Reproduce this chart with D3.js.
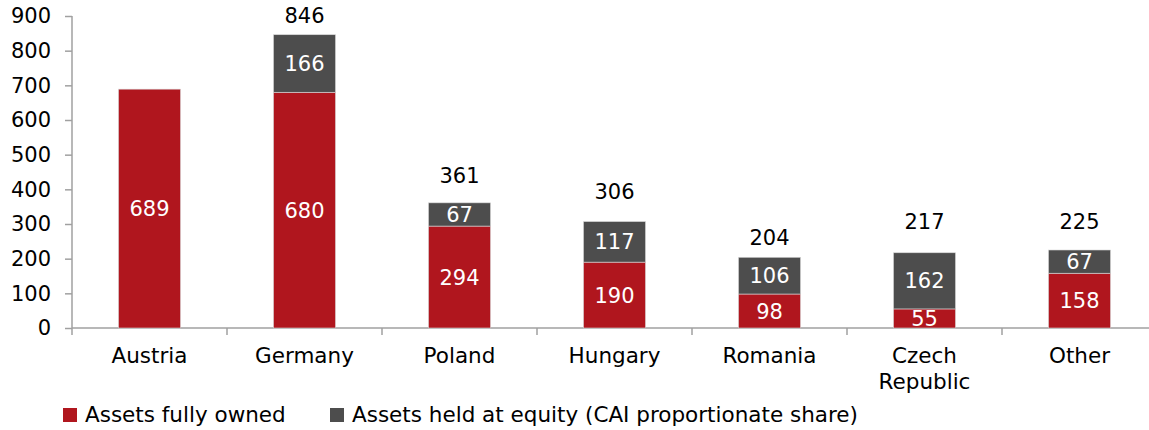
<!DOCTYPE html>
<html><head><meta charset="utf-8">
<script src="https://cdn.jsdelivr.net/npm/d3@7"></script>
<style>body{margin:0;background:#fff}svg{display:block}text{font-family:"DejaVu Sans",Verdana,sans-serif}</style>
</head><body>
<svg id="c" width="1149" height="430"></svg>
<script>
const categories = ["Austria","Germany","Poland","Hungary","Romania","Czech\nRepublic","Other"];
const fullyOwned = [689, 680, 294, 190, 98, 55, 158];
const heldAtEquity = [0, 166, 67, 117, 106, 162, 67];
const totals = [null, 846, 361, 306, 204, 217, 225];
const yTicks = [0,100,200,300,400,500,600,700,800,900];
const seriesNames = ["Assets fully owned","Assets held at equity (CAI proportionate share)"];
const colors = ["#B0161E","#4D4D4D"];
// per-bar gap (px) of the total label above bar top, as placed in the original
const totalLabelGap = [0, 12, 20, 23, 12, 24, 21];

const svg = d3.select("#c");
const x = d3.scaleBand().domain(categories).range([72, 1157]).paddingInner(0.6).paddingOuter(0.3);
const y = d3.scaleLinear().domain([0, 900]).range([328, 16]);
const fs = 21, fsText = 21.5;

// y axis
const ya = svg.append("g").attr("transform","translate(72,0)")
  .call(d3.axisLeft(y).tickValues(yTicks).tickSize(7).tickPadding(14));
ya.select(".domain").attr("stroke","#A0A0A0").attr("stroke-width",1.5).attr("d","M0,16V328");
ya.selectAll(".tick line").attr("stroke","#A0A0A0").attr("stroke-width",1.5);
ya.selectAll(".tick text").attr("font-size",fs).attr("fill","#000").attr("font-family","DejaVu Sans");

// x axis
const step = x.step();
const xa = svg.append("g").attr("transform","translate(0,328)");
xa.append("line").attr("x1",72).attr("x2",1149).attr("y1",0).attr("y2",0).attr("stroke","#A0A0A0").attr("stroke-width",1.5);
categories.forEach((c,i)=>{
  const bx = x(c) - (step - x.bandwidth())/2;
  xa.append("line").attr("x1",bx).attr("x2",bx).attr("y1",0).attr("y2",7).attr("stroke","#A0A0A0").attr("stroke-width",1.5);
  const lines = c.split("\n");
  const t = xa.append("text").attr("text-anchor","middle").attr("font-size",fsText).attr("fill","#000");
  lines.forEach((l,j)=>t.append("tspan").attr("x", x(c)+x.bandwidth()/2).attr("y", 35 + j*26).text(l));
});

// bars
const cx = c => x(c) + x.bandwidth()/2;
categories.forEach((c,i)=>{
  const segs = [[0, fullyOwned[i]], [fullyOwned[i], fullyOwned[i]+heldAtEquity[i]]];
  segs.forEach((s,k)=>{
    if (s[1]-s[0] <= 0) return;
    svg.append("rect").attr("x", x(c)).attr("width", x.bandwidth())
      .attr("y", y(s[1])).attr("height", y(s[0]) - y(s[1]))
      .attr("fill", colors[k]).attr("stroke","#d8d8d8").attr("stroke-width",0.6);
    svg.append("text").attr("x", cx(c)).attr("y", y((s[0]+s[1])/2) + 7.5)
      .attr("text-anchor","middle").attr("font-size",fs).attr("fill","#fff").text(s[1]-s[0]);
  });
  if (totals[i] != null) {
    svg.append("text").attr("x", cx(c)).attr("y", y(totals[i]) - totalLabelGap[i])
      .attr("text-anchor","middle").attr("font-size",fs).attr("fill","#000").text(totals[i]);
  }
});

// legend
const legX = [63, 330];
seriesNames.forEach((n,k)=>{
  svg.append("rect").attr("x", legX[k]).attr("y", 408).attr("width",14).attr("height",14).attr("fill",colors[k]);
  svg.append("text").attr("x", legX[k]+22).attr("y", 421.5).attr("font-size",fsText).attr("fill","#000").text(n);
});
</script>
</body></html>
